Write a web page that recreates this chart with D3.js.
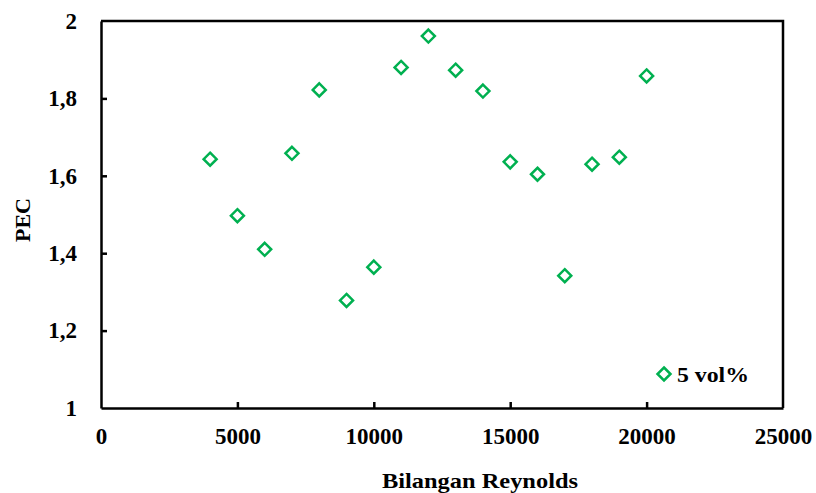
<!DOCTYPE html>
<html>
<head>
<meta charset="utf-8">
<title>PEC vs Bilangan Reynolds</title>
<script src="https://d3js.org/d3.v7.min.js"></script>
<style>
  body { margin: 0; background: #fff; }
  text { font-family: 'Liberation Serif', 'Times New Roman', serif; font-weight: bold; fill: #000; }
</style>
</head>
<body>
<div id="chart"></div>
<script>
// data
var reynolds = [4000, 5000, 6000, 7000, 8000, 9000, 10000, 11000, 12000, 13000, 14000, 15000, 16000, 17000, 18000, 19000, 20000];
var pec = [1.643, 1.497, 1.410, 1.658, 1.822, 1.278, 1.364, 1.880, 1.961, 1.873, 1.819, 1.636, 1.604, 1.342, 1.630, 1.648, 1.858];
var xTicks = [0, 5000, 10000, 15000, 20000, 25000];
var yTicks = [1, 1.2, 1.4, 1.6, 1.8, 2];
var seriesName = "5 vol%";

var width = 816, height = 493;
var margin = {left: 101, right: 33, top: 21, bottom: 85};
var green = "#00B050";

var svg = d3.select("#chart").append("svg")
    .attr("width", width)
    .attr("height", height);

var x = d3.scaleLinear().domain([0, 25000]).range([margin.left, width - margin.right]);
var y = d3.scaleLinear().domain([1, 2]).range([height - margin.bottom, margin.top]);

var fmt = function(d) { return String(d).replace(".", ","); };

// x axis (ticks pointing inward)
var xAxis = svg.append("g")
    .attr("transform", "translate(0," + y(1) + ")")
    .call(d3.axisBottom(x).tickValues(xTicks).tickSizeInner(-6).tickSizeOuter(0).tickPadding(20).tickFormat(d3.format("d")));
xAxis.selectAll("text").style("font-size", "23px");

// y axis
var yAxis = svg.append("g")
    .attr("transform", "translate(" + x(0) + ",0)")
    .call(d3.axisLeft(y).tickValues(yTicks).tickSizeInner(-6).tickSizeOuter(0).tickPadding(24).tickFormat(fmt));
yAxis.selectAll("text").style("font-size", "23px");

svg.selectAll(".domain, .tick line").attr("stroke", "#000").attr("stroke-width", 2.5);
xAxis.selectAll(".tick").filter(function(d) { return d === 0 || d === 25000; }).select("line").remove();
yAxis.selectAll(".tick").filter(function(d) { return d === 1 || d === 2; }).select("line").remove();

// frame top and right
svg.append("path")
    .attr("d", "M" + x(0) + "," + y(2) + "H" + x(25000) + "V" + y(1))
    .attr("fill", "none")
    .attr("stroke", "#000")
    .attr("stroke-width", 2.5);

// axis titles
svg.append("text")
    .attr("x", 480)
    .attr("y", 488)
    .attr("text-anchor", "middle")
    .attr("textLength", 196)
    .attr("lengthAdjust", "spacingAndGlyphs")
    .style("font-size", "22px")
    .text("Bilangan Reynolds");

svg.append("text")
    .attr("transform", "translate(30,220) rotate(-90)")
    .attr("text-anchor", "middle")
    .style("font-size", "22px")
    .text("PEC");

// markers
var diamond = function(cx, cy, r) {
  return "M" + cx + "," + (cy - r) + "L" + (cx + r) + "," + cy + "L" + cx + "," + (cy + r) + "L" + (cx - r) + "," + cy + "Z";
};

svg.append("g").selectAll("path")
    .data(reynolds.map(function(d, i) { return {re: d, pec: pec[i]}; }))
    .enter()
    .append("path")
    .attr("d", function(d) { return diamond(x(d.re), y(d.pec), 6.5); })
    .attr("fill", "none")
    .attr("stroke", green)
    .attr("stroke-width", 2.5);

// legend
var legend = svg.append("g");
legend.append("path")
    .attr("d", diamond(664, 374, 6.5))
    .attr("fill", "none")
    .attr("stroke", green)
    .attr("stroke-width", 2.5);
legend.append("text")
    .attr("x", 677)
    .attr("y", 382)
    .attr("textLength", 72)
    .attr("lengthAdjust", "spacingAndGlyphs")
    .style("font-size", "22px")
    .text(seriesName);
</script>
</body>
</html>
